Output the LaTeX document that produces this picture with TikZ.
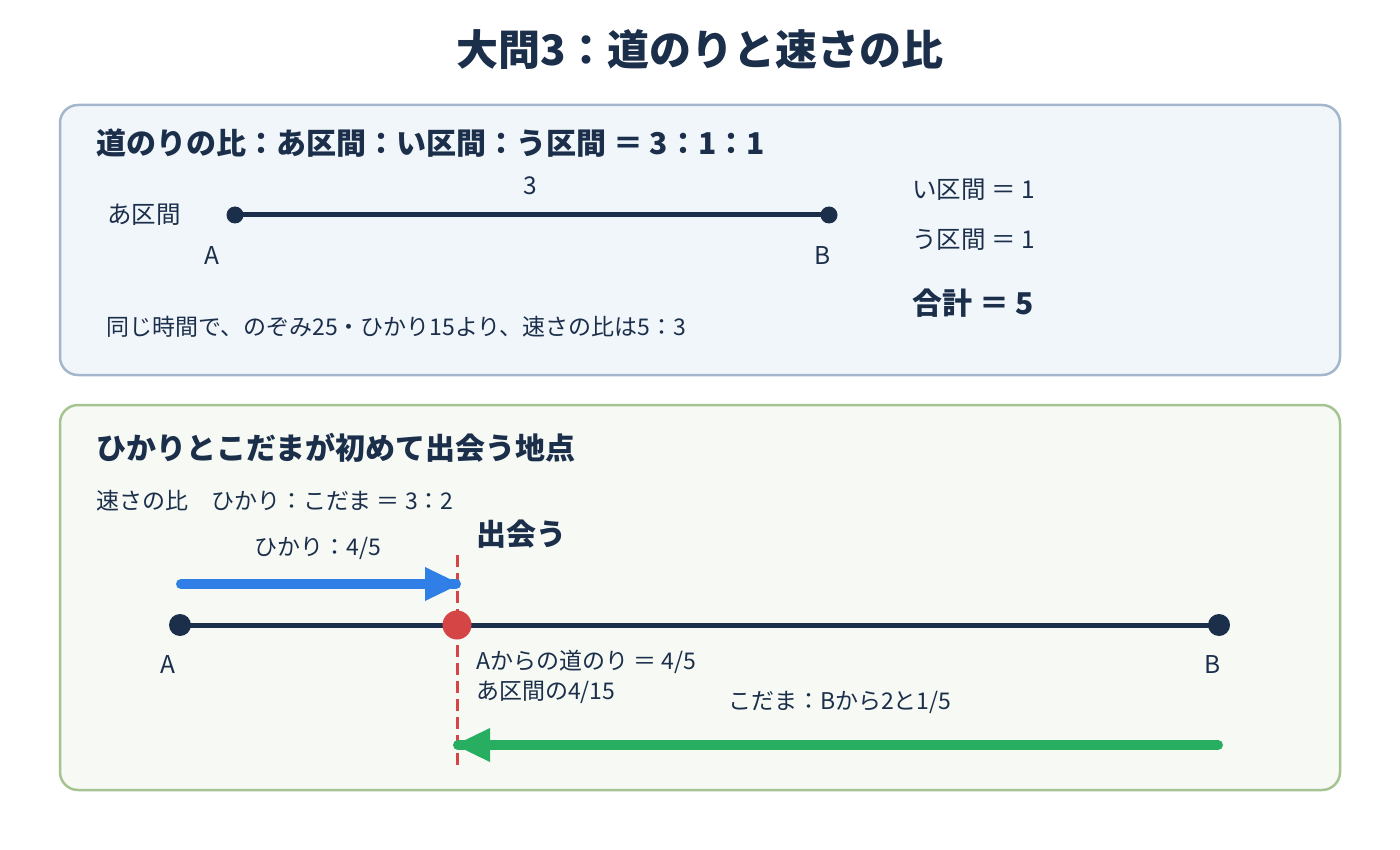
\documentclass[tikz,border=0pt]{standalone}
\usepackage{fontspec}
\setmainfont{Noto Sans CJK JP}
\usetikzlibrary{arrows.meta}
\definecolor{ink}{HTML}{1B2F4B}
\definecolor{boxAfill}{HTML}{F1F6FB}
\definecolor{boxAline}{HTML}{A3B6CC}
\definecolor{boxBfill}{HTML}{F6F9F4}
\definecolor{boxBline}{HTML}{A6C492}
\definecolor{hblue}{HTML}{2F7FE6}
\definecolor{kgreen}{HTML}{27AE60}
\definecolor{mred}{HTML}{D64545}
\tikzset{
  txt/.style={text=ink, inner sep=0pt, font=\fontsize{23}{26}\selectfont},
  bigtxt/.style={text=ink, inner sep=0pt, font=\fontsize{24.5}{28}\selectfont},
  hdr/.style={text=ink, inner sep=0pt, font=\fontsize{30}{34}\selectfont\bfseries},
  panel/.style={rounded corners=18pt, line width=2.5pt},
  seg/.style={draw=ink, line width=5pt},
  dotpt/.style={circle, fill=ink, inner sep=0pt},
}
\begin{document}
\begin{tikzpicture}[x=1pt,y=-1pt]
\useasboundingbox (0,0) rectangle (1400,850);
\fill[white] (0,0) rectangle (1400,850);
% title
\node[text=ink, inner sep=0pt, font=\fontsize{42}{46}\selectfont\bfseries] (title) at (700,50) {大問3：道のりと速さの比};
% panel 1
\draw[panel, fill=boxAfill, draw=boxAline] (60,105) rectangle (1340,375);
\node[hdr, anchor=west] (h1) at (96,143) {道のりの比：あ区間：い区間：う区間 ＝ 3：1：1};
\node[bigtxt, anchor=west] (azone) at (107,215) {あ区間};
\node[dotpt, minimum size=17pt] (A1) at (235,215) {};
\node[dotpt, minimum size=17pt] (B1) at (829,215) {};
\draw[seg] (A1.center) -- (B1.center);
\node[bigtxt] (three) at (530,186) {3};
\node[bigtxt] (lA1) at (212,256) {A};
\node[bigtxt] (lB1) at (823,256) {B};
\node[bigtxt, anchor=west] (izone) at (912,190) {い区間 ＝ 1};
\node[bigtxt, anchor=west] (uzone) at (912,240) {う区間 ＝ 1};
\node[hdr, anchor=west] (total) at (912,303) {合計 ＝ 5};
\node[txt, anchor=west] (note1) at (106,327) {同じ時間で、のぞみ25・ひかり15より、速さの比は5：3};
% panel 2
\draw[panel, fill=boxBfill, draw=boxBline] (60,405) rectangle (1340,790);
\node[hdr, anchor=west] (h2) at (96,448) {ひかりとこだまが初めて出会う地点};
\node[txt, anchor=west] (ratio) at (96,501) {速さの比　ひかり：こだま ＝ 3：2};
\node[hdr, anchor=west] (meet) at (476,534) {出会う};
\node[txt] (hlabel) at (318,548) {ひかり：4/5};
% dashed meeting line
\coordinate (dtop) at (457,555);
\coordinate (dbot) at (457,765);
\draw[mred, line width=3pt, dash pattern=on 12pt off 6pt] (dtop) -- (dbot);
% hikari arrow
\coordinate (hs) at (181,584);
\coordinate (he) at (456,584);
\draw[hblue, line width=10pt, line cap=round] (hs) -- (he);
\fill[hblue] (425,567) -- (460,584) -- (425,601) -- cycle;
% main line
\node[dotpt, minimum size=22pt] (A2) at (180,625) {};
\node[dotpt, minimum size=22pt] (B2) at (1219,625) {};
\draw[seg] (A2.center) -- (B2.center);
\node[circle, fill=mred, inner sep=0pt, minimum size=29pt] (M) at (457,625) {};
\node[bigtxt] (lA2) at (168,665) {A};
\node[bigtxt] (lB2) at (1213,665) {B};
\node[txt, anchor=west] (dist) at (476,662) {Aからの道のり ＝ 4/5};
\node[txt, anchor=west] (frac) at (476,692) {あ区間の4/15};
\node[txt] (klabel) at (840,702) {こだま：Bから2と1/5};
% kodama arrow
\coordinate (ks) at (1218,745);
\coordinate (ke) at (458,745);
\draw[kgreen, line width=10pt, line cap=round] (ks) -- (ke);
\fill[kgreen] (490,728) -- (455,745) -- (490,762) -- cycle;
\end{tikzpicture}
\end{document}
